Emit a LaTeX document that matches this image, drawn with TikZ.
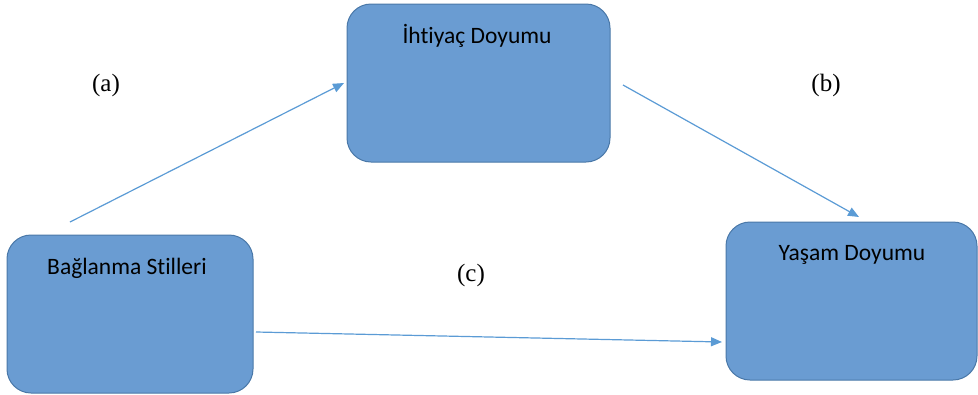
\documentclass[tikz,border=0pt]{standalone}
\usepackage{fontspec}
\setmainfont{Liberation Serif}
\newfontfamily\boxfont[Ligatures={NoCommon}]{Carlito}
\usetikzlibrary{arrows.meta}
\definecolor{boxfill}{HTML}{6A9CD2}
\definecolor{boxline}{HTML}{4A78A8}
\definecolor{arrowc}{HTML}{5B9BD5}
\tikzset{
  varbox/.style={draw=boxline, line width=1pt, fill=boxfill, rounded corners=24pt,
    minimum height=158pt, inner sep=0pt},
  boxtext/.style={font=\boxfont\fontsize{23.5pt}{28pt}\selectfont, text=black},
  lbl/.style={font=\fontsize{25pt}{30pt}\selectfont, text=black},
  conn/.style={draw=arrowc, line width=1.2pt, -{Triangle[length=11pt,width=9pt]}}
}
\begin{document}
\begin{tikzpicture}[x=1pt,y=-1pt]
\useasboundingbox (0,0) rectangle (978,394);
\node[varbox, minimum width=263pt] (need) at (478.5,83) {};
\node[varbox, minimum width=246pt] (attach) at (130,314) {};
\node[varbox, minimum width=251pt] (life) at (851.5,301) {};
\node[boxtext] (needt) at (477,36) {İhtiyaç Doyumu};
\node[boxtext] (attacht) at (127,268) {Bağlanma Stilleri};
\node[boxtext] (lifet) at (852,255) {Yaşam Doyumu};
\node[lbl] (la) at (106,85) {(a)};
\node[lbl] (lb) at (826,85) {(b)};
\node[lbl] (lc) at (471,275) {(c)};
\coordinate (a1) at (70,222);
\coordinate (a2) at (344,83);
\coordinate (b1) at (623,85);
\coordinate (b2) at (859,217);
\coordinate (c1) at (256,332);
\coordinate (c2) at (722,342);
\draw[conn] (a1) -- (a2);
\draw[conn] (b1) -- (b2);
\draw[conn] (c1) -- (c2);
\end{tikzpicture}
\end{document}
